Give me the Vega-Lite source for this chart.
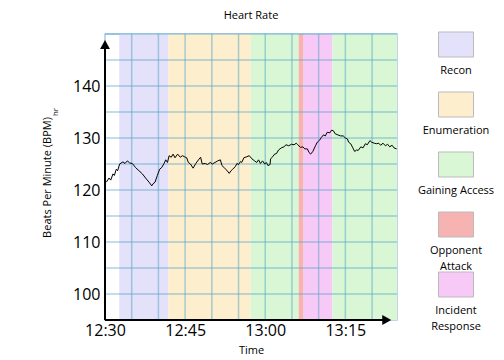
{
  "$schema": "https://vega.github.io/schema/vega-lite/v6.json",
  "background": "white",
  "padding": {"left": 40, "top": 9, "right": 5, "bottom": 5},
  "config": {"font": "Open Sans", "view": {"stroke": null}},
  "spacing": 17,
  "hconcat": [
    {
      "width": 292,
      "height": 286,
      "title": {"text": "Heart Rate", "fontSize": 11, "fontWeight": "normal", "offset": 12, "color": "black"},
      "view": {"stroke": "#a9c8e8", "strokeWidth": 1.5},
      "layer": [
        {
          "data": {"values": [
            {"phase": "Recon", "start": "2020-01-01T12:32:40", "end": "2020-01-01T12:41:52"},
            {"phase": "Enumeration", "start": "2020-01-01T12:41:52", "end": "2020-01-01T12:57:18"},
            {"phase": "Gaining Access", "start": "2020-01-01T12:57:18", "end": "2020-01-01T13:06:15"},
            {"phase": "Opponent Attack", "start": "2020-01-01T13:06:15", "end": "2020-01-01T13:07:11"},
            {"phase": "Incident Response", "start": "2020-01-01T13:07:11", "end": "2020-01-01T13:12:34"},
            {"phase": "Gaining Access", "start": "2020-01-01T13:12:34", "end": "2020-01-01T13:24:40"}
          ]},
          "mark": {"type": "rect", "opacity": 1},
          "encoding": {
            "x": {
              "field": "start", "type": "temporal", "title": "Time",
              "scale": {"domain": [
                {"year": 2020, "month": 1, "date": 1, "hours": 12, "minutes": 30},
                {"year": 2020, "month": 1, "date": 1, "hours": 13, "minutes": 24, "seconds": 40}
              ]},
              "axis": {
                "values": [
                  {"year": 2020, "month": 1, "date": 1, "hours": 12, "minutes": 30},
                  {"year": 2020, "month": 1, "date": 1, "hours": 12, "minutes": 45},
                  {"year": 2020, "month": 1, "date": 1, "hours": 13, "minutes": 0},
                  {"year": 2020, "month": 1, "date": 1, "hours": 13, "minutes": 15}
                ],
                "format": "%H:%M",
                "ticks": false, "domain": false, "grid": false,
                "labelFontSize": 16, "labelColor": "black", "labelPadding": 2,
                "labelFlush": false, "labelOverlap": false,
                "titleFontSize": 11, "titleFontWeight": "normal", "titleColor": "black", "titlePadding": 6
              }
            },
            "x2": {"field": "end"},
            "color": {
              "field": "phase", "type": "nominal", "legend": null,
              "scale": {
                "domain": ["Recon", "Enumeration", "Gaining Access", "Opponent Attack", "Incident Response"],
                "range": ["#e4e1fb", "#fdeecd", "#d9f7d5", "#f7b2b2", "#f7c9f7"]
              }
            }
          }
        },
        {
          "data": {"values": [
            {"gx": "2020-01-01T12:35:00"}, {"gx": "2020-01-01T12:40:00"}, {"gx": "2020-01-01T12:45:00"},
            {"gx": "2020-01-01T12:50:00"}, {"gx": "2020-01-01T12:55:00"}, {"gx": "2020-01-01T13:00:00"},
            {"gx": "2020-01-01T13:05:00"}, {"gx": "2020-01-01T13:10:00"}, {"gx": "2020-01-01T13:15:00"},
            {"gx": "2020-01-01T13:20:00"}
          ]},
          "mark": {"type": "rule", "color": "#55a5c8", "opacity": 0.5, "strokeWidth": 1.5},
          "encoding": {"x": {"field": "gx", "type": "temporal"}}
        },
        {
          "data": {"values": [
            {"gy": 100}, {"gy": 105}, {"gy": 110}, {"gy": 115}, {"gy": 120}, {"gy": 125},
            {"gy": 130}, {"gy": 135}, {"gy": 140}, {"gy": 145}, {"gy": 150}
          ]},
          "mark": {"type": "rule", "color": "#55a5c8", "opacity": 0.5, "strokeWidth": 1.5},
          "encoding": {"y": {"field": "gy", "type": "quantitative"}}
        },
        {
          "data": {"values": [
            {"t": "2020-01-01T12:30:15", "bpm": 121.5},
            {"t": "2020-01-01T12:30:45", "bpm": 122.3},
            {"t": "2020-01-01T12:31:04", "bpm": 121.9},
            {"t": "2020-01-01T12:31:30", "bpm": 123.1},
            {"t": "2020-01-01T12:31:45", "bpm": 122.8},
            {"t": "2020-01-01T12:32:07", "bpm": 124.0},
            {"t": "2020-01-01T12:32:22", "bpm": 123.7},
            {"t": "2020-01-01T12:32:44", "bpm": 125.0},
            {"t": "2020-01-01T12:33:22", "bpm": 125.4},
            {"t": "2020-01-01T12:33:45", "bpm": 125.1},
            {"t": "2020-01-01T12:34:11", "bpm": 125.6},
            {"t": "2020-01-01T12:34:37", "bpm": 125.2},
            {"t": "2020-01-01T12:35:07", "bpm": 125.1},
            {"t": "2020-01-01T12:35:44", "bpm": 124.3},
            {"t": "2020-01-01T12:36:22", "bpm": 123.7},
            {"t": "2020-01-01T12:37:00", "bpm": 123.1},
            {"t": "2020-01-01T12:37:36", "bpm": 122.3},
            {"t": "2020-01-01T12:38:15", "bpm": 121.5},
            {"t": "2020-01-01T12:38:45", "bpm": 120.8},
            {"t": "2020-01-01T12:39:00", "bpm": 121.2},
            {"t": "2020-01-01T12:39:22", "bpm": 121.5},
            {"t": "2020-01-01T12:39:48", "bpm": 122.8},
            {"t": "2020-01-01T12:40:14", "bpm": 124.0},
            {"t": "2020-01-01T12:40:36", "bpm": 124.3},
            {"t": "2020-01-01T12:41:04", "bpm": 125.1},
            {"t": "2020-01-01T12:41:22", "bpm": 125.8},
            {"t": "2020-01-01T12:41:42", "bpm": 125.3},
            {"t": "2020-01-01T12:42:00", "bpm": 126.6},
            {"t": "2020-01-01T12:42:24", "bpm": 126.3},
            {"t": "2020-01-01T12:42:45", "bpm": 126.9},
            {"t": "2020-01-01T12:43:06", "bpm": 126.2},
            {"t": "2020-01-01T12:43:36", "bpm": 126.9},
            {"t": "2020-01-01T12:44:06", "bpm": 126.3},
            {"t": "2020-01-01T12:44:30", "bpm": 126.6},
            {"t": "2020-01-01T12:44:52", "bpm": 126.4},
            {"t": "2020-01-01T12:45:18", "bpm": 126.2},
            {"t": "2020-01-01T12:45:36", "bpm": 125.3},
            {"t": "2020-01-01T12:46:00", "bpm": 125.0},
            {"t": "2020-01-01T12:46:30", "bpm": 124.2},
            {"t": "2020-01-01T12:47:00", "bpm": 125.1},
            {"t": "2020-01-01T12:47:30", "bpm": 125.8},
            {"t": "2020-01-01T12:47:54", "bpm": 126.3},
            {"t": "2020-01-01T12:48:12", "bpm": 125.0},
            {"t": "2020-01-01T12:48:45", "bpm": 125.1},
            {"t": "2020-01-01T12:49:12", "bpm": 124.9},
            {"t": "2020-01-01T12:49:42", "bpm": 125.3},
            {"t": "2020-01-01T12:50:06", "bpm": 125.0},
            {"t": "2020-01-01T12:50:36", "bpm": 125.3},
            {"t": "2020-01-01T12:51:06", "bpm": 125.6},
            {"t": "2020-01-01T12:51:36", "bpm": 125.8},
            {"t": "2020-01-01T12:51:54", "bpm": 124.7},
            {"t": "2020-01-01T12:52:24", "bpm": 124.2},
            {"t": "2020-01-01T12:52:48", "bpm": 123.8},
            {"t": "2020-01-01T12:53:15", "bpm": 123.2},
            {"t": "2020-01-01T12:53:36", "bpm": 123.7},
            {"t": "2020-01-01T12:53:54", "bpm": 124.0},
            {"t": "2020-01-01T12:54:24", "bpm": 124.5},
            {"t": "2020-01-01T12:54:42", "bpm": 125.1},
            {"t": "2020-01-01T12:55:00", "bpm": 124.9},
            {"t": "2020-01-01T12:55:24", "bpm": 125.5},
            {"t": "2020-01-01T12:55:36", "bpm": 125.3},
            {"t": "2020-01-01T12:56:00", "bpm": 126.2},
            {"t": "2020-01-01T12:56:33", "bpm": 126.4},
            {"t": "2020-01-01T12:57:00", "bpm": 126.6},
            {"t": "2020-01-01T12:57:30", "bpm": 126.0},
            {"t": "2020-01-01T12:58:00", "bpm": 125.6},
            {"t": "2020-01-01T12:58:24", "bpm": 125.3},
            {"t": "2020-01-01T12:58:45", "bpm": 125.8},
            {"t": "2020-01-01T12:59:06", "bpm": 125.1},
            {"t": "2020-01-01T12:59:30", "bpm": 125.6},
            {"t": "2020-01-01T12:59:54", "bpm": 125.0},
            {"t": "2020-01-01T13:00:12", "bpm": 125.3},
            {"t": "2020-01-01T13:00:30", "bpm": 124.7},
            {"t": "2020-01-01T13:00:54", "bpm": 124.9},
            {"t": "2020-01-01T13:01:00", "bpm": 126.0},
            {"t": "2020-01-01T13:01:24", "bpm": 126.4},
            {"t": "2020-01-01T13:01:45", "bpm": 126.9},
            {"t": "2020-01-01T13:02:06", "bpm": 127.0},
            {"t": "2020-01-01T13:02:30", "bpm": 127.7},
            {"t": "2020-01-01T13:03:00", "bpm": 128.1},
            {"t": "2020-01-01T13:03:30", "bpm": 128.3},
            {"t": "2020-01-01T13:03:54", "bpm": 128.7},
            {"t": "2020-01-01T13:04:24", "bpm": 128.5},
            {"t": "2020-01-01T13:04:54", "bpm": 128.8},
            {"t": "2020-01-01T13:05:24", "bpm": 128.7},
            {"t": "2020-01-01T13:05:48", "bpm": 129.0},
            {"t": "2020-01-01T13:06:06", "bpm": 128.7},
            {"t": "2020-01-01T13:06:36", "bpm": 128.2},
            {"t": "2020-01-01T13:07:03", "bpm": 128.3},
            {"t": "2020-01-01T13:07:24", "bpm": 127.9},
            {"t": "2020-01-01T13:07:54", "bpm": 127.9},
            {"t": "2020-01-01T13:08:12", "bpm": 127.2},
            {"t": "2020-01-01T13:08:30", "bpm": 126.9},
            {"t": "2020-01-01T13:08:54", "bpm": 127.4},
            {"t": "2020-01-01T13:09:24", "bpm": 128.5},
            {"t": "2020-01-01T13:09:45", "bpm": 129.2},
            {"t": "2020-01-01T13:10:12", "bpm": 129.6},
            {"t": "2020-01-01T13:10:30", "bpm": 130.1},
            {"t": "2020-01-01T13:10:54", "bpm": 130.6},
            {"t": "2020-01-01T13:11:15", "bpm": 130.4},
            {"t": "2020-01-01T13:11:36", "bpm": 131.1},
            {"t": "2020-01-01T13:12:06", "bpm": 131.0},
            {"t": "2020-01-01T13:12:24", "bpm": 131.5},
            {"t": "2020-01-01T13:12:45", "bpm": 131.4},
            {"t": "2020-01-01T13:13:06", "bpm": 130.8},
            {"t": "2020-01-01T13:13:36", "bpm": 130.6},
            {"t": "2020-01-01T13:14:06", "bpm": 130.4},
            {"t": "2020-01-01T13:14:36", "bpm": 130.4},
            {"t": "2020-01-01T13:15:00", "bpm": 130.0},
            {"t": "2020-01-01T13:15:24", "bpm": 129.8},
            {"t": "2020-01-01T13:15:36", "bpm": 129.2},
            {"t": "2020-01-01T13:16:00", "bpm": 128.9},
            {"t": "2020-01-01T13:16:24", "bpm": 128.1},
            {"t": "2020-01-01T13:16:45", "bpm": 127.4},
            {"t": "2020-01-01T13:17:06", "bpm": 127.7},
            {"t": "2020-01-01T13:17:24", "bpm": 127.6},
            {"t": "2020-01-01T13:17:54", "bpm": 128.3},
            {"t": "2020-01-01T13:18:18", "bpm": 128.1},
            {"t": "2020-01-01T13:18:45", "bpm": 128.9},
            {"t": "2020-01-01T13:19:06", "bpm": 128.7},
            {"t": "2020-01-01T13:19:36", "bpm": 129.5},
            {"t": "2020-01-01T13:19:54", "bpm": 129.2},
            {"t": "2020-01-01T13:20:24", "bpm": 129.0},
            {"t": "2020-01-01T13:20:48", "bpm": 128.9},
            {"t": "2020-01-01T13:21:15", "bpm": 129.0},
            {"t": "2020-01-01T13:21:36", "bpm": 128.6},
            {"t": "2020-01-01T13:22:03", "bpm": 129.0},
            {"t": "2020-01-01T13:22:30", "bpm": 128.5},
            {"t": "2020-01-01T13:22:54", "bpm": 128.8},
            {"t": "2020-01-01T13:23:18", "bpm": 128.3},
            {"t": "2020-01-01T13:23:45", "bpm": 128.6},
            {"t": "2020-01-01T13:24:06", "bpm": 128.1},
            {"t": "2020-01-01T13:24:36", "bpm": 127.9}
          ]},
          "mark": {"type": "line", "color": "black", "strokeWidth": 1},
          "encoding": {
            "x": {"field": "t", "type": "temporal"},
            "y": {
              "field": "bpm", "type": "quantitative", "title": "Beats Per Minute (BPM)",
              "scale": {"domain": [95, 150], "nice": false, "zero": false},
              "axis": {
                "values": [100, 110, 120, 130, 140],
                "ticks": false, "domain": false, "grid": false,
                "labelFontSize": 16, "labelColor": "black", "labelPadding": 5,
                "labelFlush": false, "labelOverlap": false,
                "titleFontSize": 11, "titleFontWeight": "normal", "titleColor": "black", "titlePadding": 20
              }
            }
          }
        },
        {
          "data": {"values": [{"note": "y axis line"}]},
          "mark": {"type": "rule", "color": "black", "strokeWidth": 2},
          "encoding": {
            "x": {"datum": {"year": 2020, "month": 1, "date": 1, "hours": 12, "minutes": 30}, "type": "temporal"},
            "y": {"datum": 95},
            "y2": {"datum": 147.5}
          }
        },
        {
          "data": {"values": [{"note": "x axis line"}]},
          "mark": {"type": "rule", "color": "black", "strokeWidth": 2},
          "encoding": {
            "x": {"datum": {"year": 2020, "month": 1, "date": 1, "hours": 12, "minutes": 30}, "type": "temporal"},
            "x2": {"datum": {"year": 2020, "month": 1, "date": 1, "hours": 13, "minutes": 22, "seconds": 30}},
            "y": {"datum": 95}
          }
        },
        {
          "data": {"values": [{"note": "y arrow"}]},
          "mark": {"type": "point", "shape": "M0,-1L1.1,1L-1.1,1Z", "size": 81, "filled": true, "color": "black", "opacity": 1},
          "encoding": {
            "x": {"datum": {"year": 2020, "month": 1, "date": 1, "hours": 12, "minutes": 30}, "type": "temporal"},
            "y": {"datum": 148.0}
          }
        },
        {
          "data": {"values": [{"note": "x arrow"}]},
          "mark": {"type": "point", "shape": "M1,0L-1,1.1L-1,-1.1Z", "size": 81, "filled": true, "color": "black", "opacity": 1},
          "encoding": {
            "x": {"datum": {"year": 2020, "month": 1, "date": 1, "hours": 13, "minutes": 22, "seconds": 45}, "type": "temporal"},
            "y": {"datum": 95}
          }
        },
        {
          "data": {"values": [{"note": "hr"}]},
          "mark": {"type": "text", "text": "hr", "angle": 270, "fontSize": 8, "dy": -49, "color": "black"},
          "encoding": {
            "x": {"datum": {"year": 2020, "month": 1, "date": 1, "hours": 12, "minutes": 30}, "type": "temporal"},
            "y": {"datum": 135}
          }
        }
      ]
    },
    {
      "width": 70,
      "height": 261,
      "view": {"stroke": null},
      "data": {"values": [
        {"phase": "Recon", "label": "Recon"},
        {"phase": "Enumeration", "label": "Enumeration"},
        {"phase": "Gaining Access", "label": "Gaining Access"},
        {"phase": "Opponent Attack", "label": ["Opponent", "Attack"]},
        {"phase": "Incident Response", "label": ["Incident", "Response"]}
      ]},
      "encoding": {
        "y": {"field": "phase", "type": "nominal", "sort": null, "axis": null, "scale": {"type": "point", "padding": 0.175}}
      },
      "layer": [
        {
          "mark": {"type": "point", "shape": "M-1.4,-1H1.4V1H-1.4Z", "size": 625, "filled": true, "opacity": 1, "stroke": "#bbbbbb", "strokeWidth": 1},
          "encoding": {
            "color": {
              "field": "phase", "type": "nominal", "legend": null,
              "scale": {
                "domain": ["Recon", "Enumeration", "Gaining Access", "Opponent Attack", "Incident Response"],
                "range": ["#e4e1fb", "#fdeecd", "#d9f7d5", "#f7b2b2", "#f7c9f7"]
              }
            }
          }
        },
        {
          "mark": {"type": "text", "baseline": "top", "dy": 20, "fontSize": 11, "lineHeight": 16, "color": "black"},
          "encoding": {"text": {"field": "label"}}
        }
      ]
    }
  ]
}
